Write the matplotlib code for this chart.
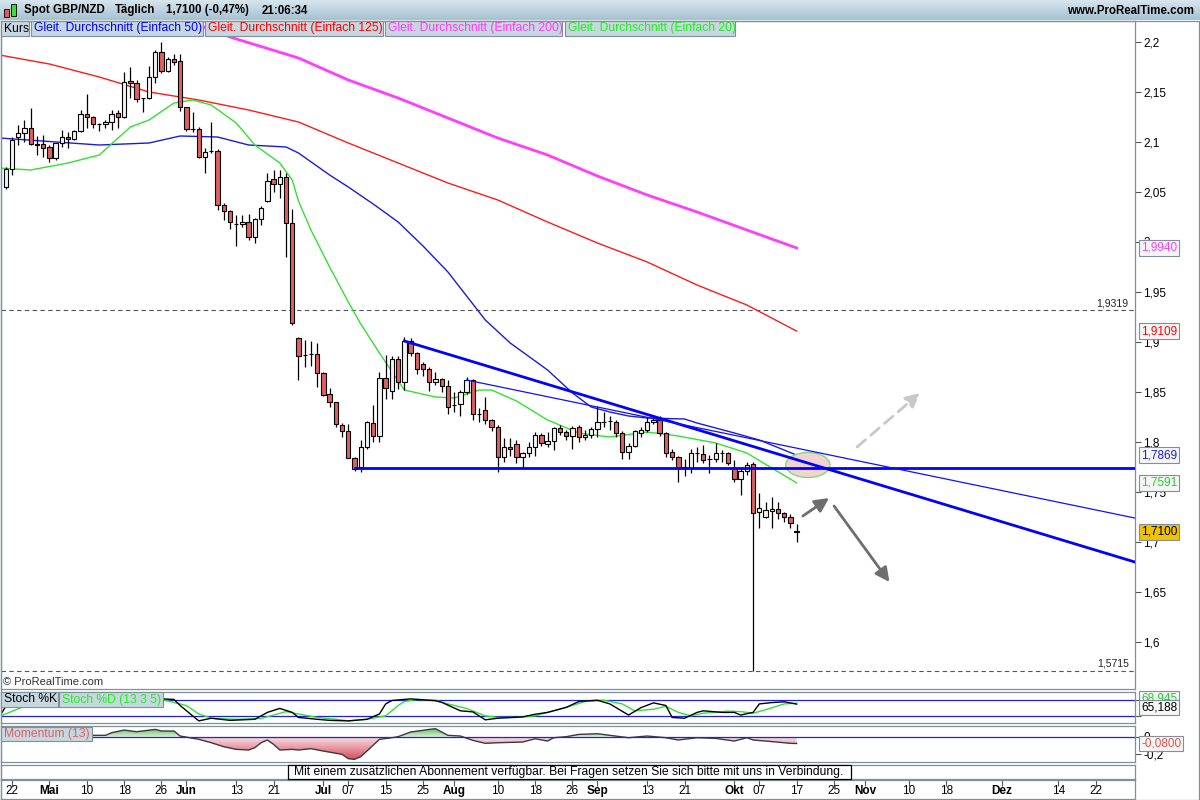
import numpy as np
import pandas as pd
import matplotlib
matplotlib.use('Agg')
import matplotlib.pyplot as plt
from matplotlib.patches import Rectangle, Ellipse
from matplotlib.path import Path
from matplotlib.colors import LinearSegmentedColormap

plt.rcParams['font.family'] = ['Liberation Sans', 'DejaVu Sans']

# Daily candles GBP/NZD, 21.04.2016 - 17.10.2016
dates = pd.bdate_range('2016-04-21', '2016-10-17')
opens = [2.055, 2.073, 2.105, 2.109, 2.114, 2.098, 2.098, 2.095, 2.084, 2.099,
         2.105, 2.103, 2.111, 2.128, 2.125, 2.118, 2.118, 2.120, 2.129, 2.125,
         2.161, 2.159, 2.144, 2.144, 2.165, 2.190, 2.171, 2.183, 2.181, 2.135,
         2.113, 2.113, 2.085, 2.091, 2.091, 2.037, 2.031, 2.018, 2.018, 2.020,
         2.005, 2.023, 2.041, 2.063, 2.058, 2.065, 2.019, 1.904, 1.887, 1.888,
         1.888, 1.869, 1.848, 1.840, 1.817, 1.811, 1.784, 1.775, 1.795, 1.819,
         1.806, 1.864, 1.851, 1.883, 1.860, 1.901, 1.889, 1.878, 1.873, 1.860,
         1.863, 1.856, 1.837, 1.838, 1.850, 1.862, 1.828, 1.832, 1.822, 1.815,
         1.785, 1.795, 1.798, 1.785, 1.789, 1.795, 1.807, 1.798, 1.801, 1.814,
         1.810, 1.806, 1.815, 1.805, 1.807, 1.813, 1.820, 1.821, 1.820, 1.809,
         1.790, 1.796, 1.809, 1.812, 1.820, 1.822, 1.809, 1.790, 1.785, 1.775,
         1.774, 1.789, 1.788, 1.783, 1.783, 1.789, 1.789, 1.774, 1.763, 1.771,
         1.778, 1.730, 1.725, 1.731, 1.733, 1.729, 1.725, 1.711]
highs = [2.075, 2.105, 2.117, 2.122, 2.134, 2.106, 2.107, 2.097, 2.099, 2.112,
         2.110, 2.112, 2.132, 2.148, 2.126, 2.119, 2.122, 2.132, 2.132, 2.170,
         2.175, 2.162, 2.144, 2.176, 2.192, 2.200, 2.185, 2.188, 2.188, 2.135,
         2.130, 2.115, 2.094, 2.120, 2.093, 2.039, 2.032, 2.027, 2.027, 2.028,
         2.024, 2.036, 2.069, 2.072, 2.072, 2.069, 2.033, 1.905, 1.902, 1.901,
         1.899, 1.870, 1.854, 1.840, 1.819, 1.818, 1.785, 1.802, 1.821, 1.837,
         1.870, 1.887, 1.886, 1.886, 1.905, 1.904, 1.890, 1.880, 1.875, 1.870,
         1.864, 1.862, 1.850, 1.852, 1.865, 1.863, 1.834, 1.845, 1.823, 1.817,
         1.804, 1.804, 1.802, 1.790, 1.800, 1.810, 1.809, 1.810, 1.815, 1.817,
         1.812, 1.816, 1.817, 1.812, 1.815, 1.836, 1.830, 1.826, 1.822, 1.811,
         1.799, 1.812, 1.815, 1.825, 1.827, 1.826, 1.810, 1.793, 1.786, 1.783,
         1.793, 1.795, 1.797, 1.787, 1.799, 1.792, 1.790, 1.782, 1.774, 1.780,
         1.780, 1.749, 1.740, 1.745, 1.740, 1.730, 1.728, 1.718]
lows = [2.053, 2.067, 2.097, 2.100, 2.097, 2.087, 2.085, 2.080, 2.082, 2.095,
        2.094, 2.102, 2.110, 2.114, 2.114, 2.111, 2.114, 2.112, 2.114, 2.124,
        2.144, 2.140, 2.130, 2.143, 2.159, 2.169, 2.170, 2.177, 2.131, 2.111,
        2.110, 2.084, 2.069, 2.089, 2.032, 2.022, 2.013, 1.996, 2.015, 2.002,
        1.999, 2.017, 2.040, 2.050, 2.044, 1.985, 1.917, 1.862, 1.875, 1.876,
        1.855, 1.846, 1.835, 1.815, 1.805, 1.784, 1.771, 1.770, 1.793, 1.800,
        1.800, 1.843, 1.843, 1.853, 1.852, 1.886, 1.868, 1.866, 1.851, 1.857,
        1.850, 1.828, 1.830, 1.826, 1.848, 1.822, 1.820, 1.818, 1.811, 1.770,
        1.780, 1.786, 1.779, 1.774, 1.785, 1.786, 1.796, 1.795, 1.792, 1.807,
        1.802, 1.793, 1.800, 1.802, 1.804, 1.805, 1.815, 1.812, 1.805, 1.783,
        1.783, 1.795, 1.805, 1.810, 1.818, 1.806, 1.785, 1.782, 1.760, 1.766,
        1.769, 1.780, 1.779, 1.769, 1.780, 1.780, 1.777, 1.760, 1.747, 1.767,
        1.5715, 1.714, 1.724, 1.714, 1.723, 1.720, 1.714, 1.700]
closes = [2.073, 2.102, 2.109, 2.114, 2.098, 2.097, 2.094, 2.084, 2.099, 2.105,
          2.103, 2.111, 2.128, 2.125, 2.118, 2.118, 2.120, 2.128, 2.125, 2.160,
          2.159, 2.143, 2.144, 2.165, 2.190, 2.171, 2.183, 2.180, 2.135, 2.113,
          2.113, 2.085, 2.090, 2.091, 2.037, 2.031, 2.020, 2.018, 2.020, 2.005,
          2.023, 2.034, 2.061, 2.058, 2.065, 2.019, 1.919, 1.886, 1.887, 1.888,
          1.869, 1.847, 1.840, 1.818, 1.811, 1.784, 1.773, 1.795, 1.820, 1.806,
          1.864, 1.854, 1.883, 1.860, 1.901, 1.889, 1.873, 1.873, 1.860, 1.863,
          1.856, 1.835, 1.837, 1.850, 1.862, 1.828, 1.828, 1.822, 1.815, 1.785,
          1.795, 1.793, 1.785, 1.789, 1.795, 1.807, 1.799, 1.801, 1.814, 1.810,
          1.806, 1.814, 1.805, 1.807, 1.813, 1.820, 1.820, 1.821, 1.809, 1.790,
          1.796, 1.811, 1.812, 1.820, 1.822, 1.809, 1.789, 1.785, 1.774, 1.775,
          1.789, 1.789, 1.782, 1.783, 1.789, 1.789, 1.779, 1.763, 1.771, 1.777,
          1.729, 1.734, 1.732, 1.733, 1.729, 1.725, 1.719, 1.710]

# moving averages (bar index, value)
ma20_idx = [-1, 4, 10, 15, 20, 23, 27, 30, 33, 37, 40, 44, 46, 47, 49, 52, 55, 57,
            60, 64, 69, 72, 76, 78, 82, 87, 92, 97, 103, 108, 114, 119, 123, 127]
ma20_val = [2.074, 2.072, 2.079, 2.087, 2.115, 2.122, 2.139, 2.142, 2.137, 2.119,
            2.097, 2.079, 2.062, 2.041, 2.012, 1.975, 1.940, 1.918, 1.889, 1.852,
            1.845, 1.844, 1.852, 1.852, 1.841, 1.822, 1.809, 1.805, 1.810, 1.806,
            1.799, 1.789, 1.774, 1.7591]
ma50_idx = [-1, 15, 23, 28, 34, 39, 45, 47, 52, 55, 59, 63, 67, 71, 74, 77, 81, 87,
            91, 94, 97, 100, 103, 109, 111, 117, 121, 127]
ma50_val = [2.104, 2.097, 2.099, 2.106, 2.105, 2.097, 2.095, 2.089, 2.067, 2.055,
            2.038, 2.020, 1.996, 1.970, 1.946, 1.922, 1.899, 1.872, 1.849, 1.835,
            1.830, 1.826, 1.824, 1.823, 1.819, 1.809, 1.802, 1.7869]
ma125_idx = [-1, 7, 15, 23, 31, 39, 47, 55, 63, 71, 79, 87, 95, 103, 111, 119, 127]
ma125_val = [2.187, 2.178, 2.165, 2.150, 2.142, 2.132, 2.120, 2.099, 2.079, 2.059,
             2.042, 2.020, 1.999, 1.980, 1.957, 1.937, 1.9109]
ma200_idx = [-1, 20, 36, 47, 55, 63, 71, 79, 87, 95, 103, 111, 119, 127]
ma200_val = [2.290, 2.243, 2.205, 2.184, 2.162, 2.144, 2.124, 2.104, 2.087, 2.066,
             2.047, 2.030, 2.012, 1.994]

# stochastic (13 3 5) and momentum (13)
stk_idx = [-1, 0, 2, 5, 9, 13, 17, 21, 25, 27, 28, 30, 31, 33, 36, 40, 42, 44, 46,
           47, 50, 52, 55, 58, 60, 61, 62, 63, 65, 69, 70, 73, 75, 77, 79, 83, 85,
           87, 90, 92, 95, 97, 100, 102, 104, 106, 107, 109, 111, 112, 115, 117,
           118, 120, 121, 123, 125, 127]
stk_val = [19, 57, 80, 88, 75, 70, 82, 88, 85, 83, 60, 21, 2, 12, 4, 8, 34, 49, 34,
           15, 8, 4, 2, 8, 28, 66, 79, 81, 85, 78, 72, 40, 36, 6, 12, 17, 27,
           34, 53, 75, 80, 66, 24, 52, 70, 60, 15, 12, 34, 40, 34, 34,
           24, 34, 66, 71, 74, 65.188]
std_idx = [-1, 3, 6, 10, 14, 18, 22, 25, 29, 31, 33, 37, 41, 45, 47, 50, 53, 55, 58,
           61, 63, 64, 66, 69, 71, 74, 77, 79, 82, 85, 87, 90, 93, 96, 99, 101,
           104, 106, 108, 110, 112, 116, 118, 120, 122, 125, 127]
std_val = [19, 57, 75, 80, 74, 80, 84, 83, 60, 28, 12, 8, 11, 37, 28, 15, 8, 2, 8,
           21, 60, 75, 83, 80, 66, 49, 21, 15, 15, 21, 34, 53, 75, 80, 66, 40,
           46, 57, 34, 21, 31, 39, 37, 31, 44, 66, 68.945]
mom_idx = [-1, 4, 8, 11, 14, 16, 17, 19, 21, 24, 25, 27, 28, 31, 33, 35, 37, 39,
           40, 41, 42, 43, 44, 46, 47, 49, 51, 54, 55, 56, 57, 58, 60, 62, 63, 65,
           68, 69, 71, 73, 75, 77, 79, 83, 85, 87, 88, 90, 92, 95, 97, 100, 103,
           106, 108, 111, 114, 117, 119, 120, 122, 126, 127]
mom_val = [0.030, 0.040, 0.020, 0.030, 0.016, 0.016, 0.047, 0.078, 0.059, 0.086,
           0.067, 0.067, 0.008, -0.031, -0.071, -0.118, -0.149, -0.157,
           -0.129, -0.071, -0.039, -0.090, -0.157, -0.149, -0.157, -0.141, -0.169,
           -0.208, -0.259, -0.267, -0.235, -0.169, -0.031, -0.012, 0.0, 0.055,
           0.086, 0.094, 0.016, 0.008, -0.043, -0.078, -0.071, -0.063, -0.024,
           -0.051, -0.012, 0.0, 0.027, 0.035, 0.016, -0.012, 0.008,
           -0.012, -0.039, -0.012, -0.020, -0.051, -0.012, -0.039, -0.051, -0.078,
           -0.080]

# drawn objects (bar index, price)
thick_trend = ([64, 181.3], [1.901, 1.680])
thin_trend = ([74, 181.3], [1.862, 1.724])
support = ([56, 181.3], [1.774, 1.774])
level_hi, level_lo = 1.9319, 1.5715

tick_dates = ['2016-04-22', '2016-05-02', '2016-05-10', '2016-05-18', '2016-05-26',
              '2016-06-01', '2016-06-13', '2016-06-21', '2016-07-01', '2016-07-07',
              '2016-07-15', '2016-07-25', '2016-08-01', '2016-08-10', '2016-08-18',
              '2016-08-26', '2016-09-01', '2016-09-13', '2016-09-21', '2016-10-03',
              '2016-10-07', '2016-10-17', '2016-10-25', '2016-11-01', '2016-11-10',
              '2016-11-18', '2016-12-01', '2016-12-14', '2016-12-22']
tick_labels = ['22', 'Mai', '10', '18', '26', 'Jun', '13', '21', 'Jul', '07', '15',
               '25', 'Aug', '10', '18', '26', 'Sep', '13', '21', 'Okt', '07', '17',
               '25', 'Nov', '10', '18', 'Dez', '14', '22']
months = {'Mai', 'Jun', 'Jul', 'Aug', 'Sep', 'Okt', 'Nov', 'Dez'}

W, H = 1200, 800
XMIN, XMAX = -0.77, 181.33
BORDER = '#7f909a'
BOXFILL = '#c6d7e0'


def rect(x0, y0, x1, y1):
    # pixel box (from top-left) -> figure fraction
    return [x0 / W, 1 - y1 / H, (x1 - x0) / W, (y1 - y0) / H]


def comma(v, fmt):
    return format(v, fmt).replace('.', ',')


def label_boxes(items, y0, y1, size=8.7):
    for x0, x1, txt, col in items:
        fig.add_artist(Rectangle((x0 / W, 1 - y1 / H), (x1 - x0) / W, (y1 - y0) / H,
                                 transform=fig.transFigure, fc=BOXFILL, ec=BORDER,
                                 lw=0.8, zorder=20))
        fig.text((x0 + 3) / W, 1 - (y0 + y1) / 2 / H, txt, color=col, fontsize=size,
                 va='center', ha='left', zorder=21)


def value_box(axis, yval, text, color, fc='#f6f6f6'):
    axis.text(1.0055, yval, text, transform=axis.get_yaxis_transform(), color=color,
              fontsize=8.5, va='center', ha='left', clip_on=False, zorder=30,
              bbox=dict(boxstyle='square,pad=0.15', fc=fc, ec=BORDER, lw=0.8))


def style_panel(axis):
    for s in axis.spines.values():
        s.set_color(BORDER)
        s.set_linewidth(0.9)
    axis.set_xlim(XMIN, XMAX)
    axis.set_xticks([])


fig = plt.figure(figsize=(12, 8), dpi=100)

# header bar
hdr = fig.add_axes(rect(0, 0, 1200, 20))
hdr.imshow(np.linspace(0, 1, 40).reshape(-1, 1), aspect='auto', extent=[0, 1, 0, 1],
           cmap=LinearSegmentedColormap.from_list('hdr', ['#d6e5ee', '#a7c2d0']))
hdr.axis('off')
fig.add_artist(Rectangle((4 / W, 1 - 17 / H), 5 / W, 8 / H, transform=fig.transFigure,
                         fc='#e05a5a', ec='black', lw=0.6))
fig.add_artist(Rectangle((11 / W, 1 - 16 / H), 5 / W, 12 / H, transform=fig.transFigure,
                         fc='#3cdc3c', ec='black', lw=0.6))
for hx, htxt in [(24, 'Spot GBP/NZD'), (115, 'Täglich'),
                 (166, '1,7100 (-0,47%)'), (262, '21:06:34')]:
    fig.text(hx / W, 1 - 10.5 / H, htxt, fontsize=8.3, fontweight='bold', va='center')
fig.text(1194 / W, 1 - 10.5 / H, 'www.ProRealTime.com', fontsize=8.3,
         fontweight='bold', va='center', ha='right')

x = np.arange(len(closes))
o = np.array(opens)
c = np.array(closes)
up = c >= o

# main price panel
ax = fig.add_axes(rect(1, 21, 1135, 689))
style_panel(ax)
ax.plot(ma200_idx, ma200_val, color='#ff3cff', lw=2.0, zorder=2)
ax.plot(ma125_idx, ma125_val, color='#ff1a1a', lw=1.0, zorder=2)
ax.plot(ma50_idx, ma50_val, color='#1c1cd6', lw=1.0, zorder=2)
ax.plot(ma20_idx, ma20_val, color='#33e033', lw=1.0, zorder=2)

ax.vlines(x, lows, highs, color='black', lw=0.9, zorder=3)
ax.bar(x[up], (c - o)[up], bottom=o[up], width=0.7, color='#f4f4f4',
       edgecolor='black', lw=0.8, zorder=4)
ax.bar(x[~up], (c - o)[~up], bottom=o[~up], width=0.7, color='#e06060',
       edgecolor='black', lw=0.8, zorder=4)

ax.add_patch(Ellipse((128.8, 1.777), 7.1, 0.025, fc='#f3d2d2', ec='#80d880',
                     lw=1.0, zorder=5))
ax.plot(*support, color='#0000ff', lw=2.0, zorder=6)
ax.plot(*thick_trend, color='#0000ff', lw=2.0, zorder=6)
ax.plot(*thin_trend, color='#1010ff', lw=0.9, zorder=6)

ax.annotate('', xy=(146.8, 1.849), xytext=(136.7, 1.795), zorder=7,
            arrowprops=dict(arrowstyle='-|>,head_length=0.6,head_width=0.3',
                            color='#c8c8c8', lw=2.0, ls=(0, (4, 2.5)),
                            shrinkA=0, shrinkB=0, mutation_scale=14))
ax.annotate('', xy=(132.2, 1.744), xytext=(128.0, 1.726), zorder=7,
            arrowprops=dict(arrowstyle='-|>,head_length=0.6,head_width=0.3',
                            color='#6e6e6e', lw=2.0, shrinkA=0, shrinkB=0,
                            mutation_scale=14))
ax.annotate('', xy=(141.9, 1.660), xytext=(133.0, 1.736), zorder=7,
            arrowprops=dict(arrowstyle='-|>,head_length=0.6,head_width=0.3',
                            color='#6e6e6e', lw=2.0, shrinkA=0, shrinkB=0,
                            mutation_scale=14))

for lvl in (level_hi, level_lo):
    ax.axhline(lvl, color='#555555', lw=0.8, ls=(0, (4, 3)), zorder=1)
    ax.text(180.3, lvl + 0.002, comma(lvl, '.4f'), ha='right', va='bottom',
            fontsize=7.5, color='#222222')

ax.set_ylim(1.553, 2.221)
ax.yaxis.tick_right()
yt = np.round(np.arange(1.6, 2.2001, 0.05), 2)
ax.set_yticks(yt)
ax.set_yticklabels([format(v, '.2f').rstrip('0').rstrip('.').replace('.', ',')
                    for v in yt])
ax.tick_params(axis='y', length=4, width=0.8, color='#555555', labelsize=8.5, pad=2)
fig.text(3 / W, 1 - 682 / H, '© ProRealTime.com', fontsize=8, va='center',
         color='#333333')

value_box(ax, ma200_val[-1], comma(ma200_val[-1], '.4f'), '#ff3cff')
value_box(ax, ma125_val[-1], comma(ma125_val[-1], '.4f'), '#ff0000')
value_box(ax, ma50_val[-1], comma(ma50_val[-1], '.4f'), '#1c1cd6')
value_box(ax, ma20_val[-1], comma(ma20_val[-1], '.4f'), '#22d022')
value_box(ax, closes[-1], comma(closes[-1], '.4f'), 'black', fc='#f2c200')

label_boxes([(1, 29, 'Kurs', 'black'),
             (31, 203, 'Gleit. Durchschnitt (Einfach 50)', '#0000ff'),
             (205, 383, 'Gleit. Durchschnitt (Einfach 125)', '#ff0000'),
             (385, 562, 'Gleit. Durchschnitt (Einfach 200)', '#ff3cff'),
             (565, 735, 'Gleit. Durchschnitt (Einfach 20)', '#22ee22')], 21, 36)

# stochastic panel
axs = fig.add_axes(rect(1, 692, 1135, 723))
style_panel(axs)
axs.axhline(80, color='#2020e0', lw=0.9)
axs.axhline(20, color='#2020e0', lw=0.9)
axs.plot(std_idx, std_val, color='#33e033', lw=1.0)
axs.plot(stk_idx, stk_val, color='black', lw=1.0)
axs.set_ylim(-6, 111)
axs.yaxis.tick_right()
axs.set_yticks([20, 80])
axs.set_yticklabels([])
axs.tick_params(axis='y', length=4, width=0.8, color='#555555')
value_box(axs, 86, comma(std_val[-1], '.3f'), '#22d022')
value_box(axs, 53, comma(stk_val[-1], '.3f'), 'black')
label_boxes([(1, 58, 'Stoch %K', 'black'),
             (59, 163, 'Stoch %D (13 3 5)', '#22ee22')], 692, 707)

# momentum panel
axm = fig.add_axes(rect(1, 726, 1135, 762))
style_panel(axm)
mx = np.array(mom_idx, dtype=float)
mv = np.array(mom_val)
neg = axm.fill_between(mx, mv, 0, where=mv <= 0, interpolate=True,
                       facecolor='none', edgecolor='none')
pos = axm.fill_between(mx, mv, 0, where=mv >= 0, interpolate=True,
                       facecolor='none', edgecolor='none')
grad = np.linspace(0, 1, 128).reshape(-1, 1)
im_neg = axm.imshow(grad, origin='lower', aspect='auto', extent=[XMIN, XMAX, -0.27, 0],
                    cmap=LinearSegmentedColormap.from_list('n', ['#d44a5c', '#f8dde1']),
                    zorder=1)
im_neg.set_clip_path(Path.make_compound_path(*neg.get_paths()), transform=axm.transData)
im_pos = axm.imshow(grad, origin='lower', aspect='auto', extent=[XMIN, XMAX, 0, 0.095],
                    cmap=LinearSegmentedColormap.from_list('p', ['#d8f0d2', '#6cb86c']),
                    zorder=1)
im_pos.set_clip_path(Path.make_compound_path(*pos.get_paths()), transform=axm.transData)
axm.plot(mx, mv, color='#3a3a3a', lw=1.0, zorder=3)
axm.axhline(0, color='#2020e0', lw=0.9, zorder=4)
axm.set_xlim(XMIN, XMAX)
axm.set_ylim(-0.298, 0.126)
axm.yaxis.tick_right()
axm.set_yticks([0, -0.2])
axm.set_yticklabels(['0', '-0,2'])
axm.tick_params(axis='y', length=4, width=0.8, color='#555555', labelsize=8.5, pad=2)
value_box(axm, mom_val[-1], comma(mom_val[-1], '.4f'), '#e05050')
label_boxes([(1, 92, 'Momentum (13)', '#e06060')], 727, 741)

# message panel
axn = fig.add_axes(rect(1, 765, 1135, 779))
style_panel(axn)
axn.set_yticks([])
fig.add_artist(Rectangle((288 / W, 1 - 779 / H), (851 - 288) / W, 14 / H,
                         transform=fig.transFigure, fc='white', ec='black', lw=0.9))
fig.text(569 / W, 1 - 771.5 / H,
         'Mit einem zusätzlichen Abonnement verfügbar. Bei Fragen setzen Sie sich '
         'bitte mit uns in Verbindung.', fontsize=8.7, ha='center', va='center')

# date axis
axd = fig.add_axes(rect(1, 780, 1135, 799))
style_panel(axd)
axd.set_ylim(0, 1)
axd.set_yticks([])
tpos = np.busday_count(np.datetime64(dates[0].date()),
                       np.array(tick_dates, dtype='datetime64[D]'))
axd.set_xticks(tpos)
axd.set_xticklabels([])
axd.tick_params(axis='x', direction='in', length=4, width=0.8, color='#555555',
                top=True, bottom=False)
for p, lbl in zip(tpos, tick_labels):
    axd.text(p, 0.42, lbl, ha='center', va='center', fontsize=8.5,
             fontweight='bold' if lbl in months else 'normal')

# outer frame of the chart window
fig.add_artist(Rectangle((0.5 / W, 0.5 / H), 1198.5 / W, 779 / H,
                         transform=fig.transFigure, fill=False, ec=BORDER, lw=0.9))

fig.savefig('out.png', dpi=100)
